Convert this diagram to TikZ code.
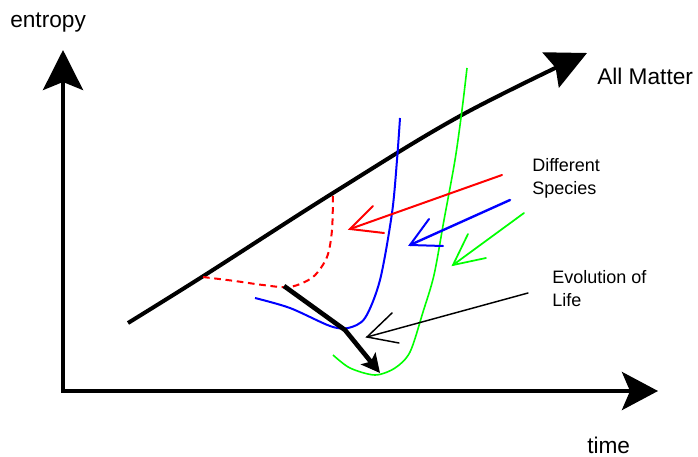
\documentclass[tikz,border=0pt]{standalone}
\usepackage{fontspec}
\setmainfont{Liberation Sans}
\usetikzlibrary{arrows.meta}
\definecolor{pred}{RGB}{255,0,0}
\definecolor{pblue}{RGB}{0,0,255}
\definecolor{pgreen}{RGB}{0,255,0}
\begin{document}
\begin{tikzpicture}[x=0.75pt,y=-0.75pt,
  axis/.style={line width=3pt, line join=miter, {Stealth[length=30pt,width=30pt,inset=6pt]}-{Stealth[length=27pt,width=28.5pt,inset=6pt]}},
  bigtext/.style={font=\fontsize{17}{20}\selectfont, inner sep=0pt, anchor=base west},
  smalltext/.style={font=\fontsize{13.5}{16}\selectfont, inner sep=0pt, anchor=base west},
  shaft/.style={line width=1.5pt, line cap=round},
  barbs/.style={line width=1.5pt, line cap=round, line join=miter}]
\useasboundingbox (0,0) rectangle (698,456);
% axes
\coordinate (ytip) at (63,50);
\coordinate (O) at (63,391);
\coordinate (xtip) at (658,391);
\draw[axis] (ytip) -- (O) -- (xtip);
\node[bigtext] (entropy) at (10,28) {entropy};
\node[bigtext] (time) at (587,453) {time};
% all matter
\draw[line width=3pt, -{Stealth[length=30pt,width=29pt,inset=4pt]}]
  plot[smooth, tension=0.6] coordinates {(128,323) (205,275) (333,193) (460,116) (587,53)};
\node[bigtext] (allmatter) at (597,85) {All Matter};
% red dashed
\draw[pred, line width=1.5pt, dash pattern=on 5pt off 3.5pt]
  plot[smooth] coordinates {(203,277) (235,281) (263,285) (290,287) (313,277) (327,257) (332,230) (333,193)};
% blue curve
\draw[pblue, line width=1.5pt]
  plot[smooth] coordinates {(255,298) (290,308) (330,326) (348,328) (365,318) (380,280) (392,213) (397,160) (400,118)};
% green curve
\draw[pgreen, line width=1.2pt]
  plot[smooth] coordinates {(333,355) (350,368) (375,375) (395,368) (410,352) (423,312) (434,275) (444,220) (455,160) (462,110) (467,68)};
% evolution path
\coordinate (e1) at (284,286);
\coordinate (e2) at (345,330);
\coordinate (e3) at (380,373);
\draw[line width=3.5pt, line join=round, -{Stealth[length=14pt,width=14pt,inset=3pt]}] (e1) -- (e2) -- (e3);
% species arrows
\coordinate (rs) at (502,175); \coordinate (rt) at (350,229);
\coordinate (rb1) at (373,206); \coordinate (rb2) at (384,233);
\draw[pred, shaft] (rs) -- (rt);
\draw[pred, barbs] (rb1) -- (rt) -- (rb2);
\coordinate (bs) at (510,200); \coordinate (bt) at (410,245);
\coordinate (bb1) at (429,219); \coordinate (bb2) at (443,246);
\draw[pblue, shaft, line width=1.8pt] (bs) -- (bt);
\draw[pblue, barbs] (bb1) -- (bt) -- (bb2);
\coordinate (gs) at (524,213); \coordinate (gt) at (453,265);
\coordinate (gb1) at (468,234); \coordinate (gb2) at (486,258);
\draw[pgreen, shaft, line width=1.3pt] (gs) -- (gt);
\draw[pgreen, barbs, line width=1.3pt] (gb1) -- (gt) -- (gb2);
\node[smalltext] (diff1) at (532,171) {Different};
\node[smalltext] (diff2) at (532,194) {Species};
% evolution label arrow
\coordinate (ks) at (528,293); \coordinate (kt) at (367,337);
\coordinate (kb1) at (392,313); \coordinate (kb2) at (399,343);
\draw[shaft, line width=1.1pt] (ks) -- (kt);
\draw[barbs, line width=1.1pt] (kb1) -- (kt) -- (kb2);
\node[smalltext] (evo1) at (552,283) {Evolution of};
\node[smalltext] (evo2) at (552,306) {Life};
\end{tikzpicture}
\end{document}
